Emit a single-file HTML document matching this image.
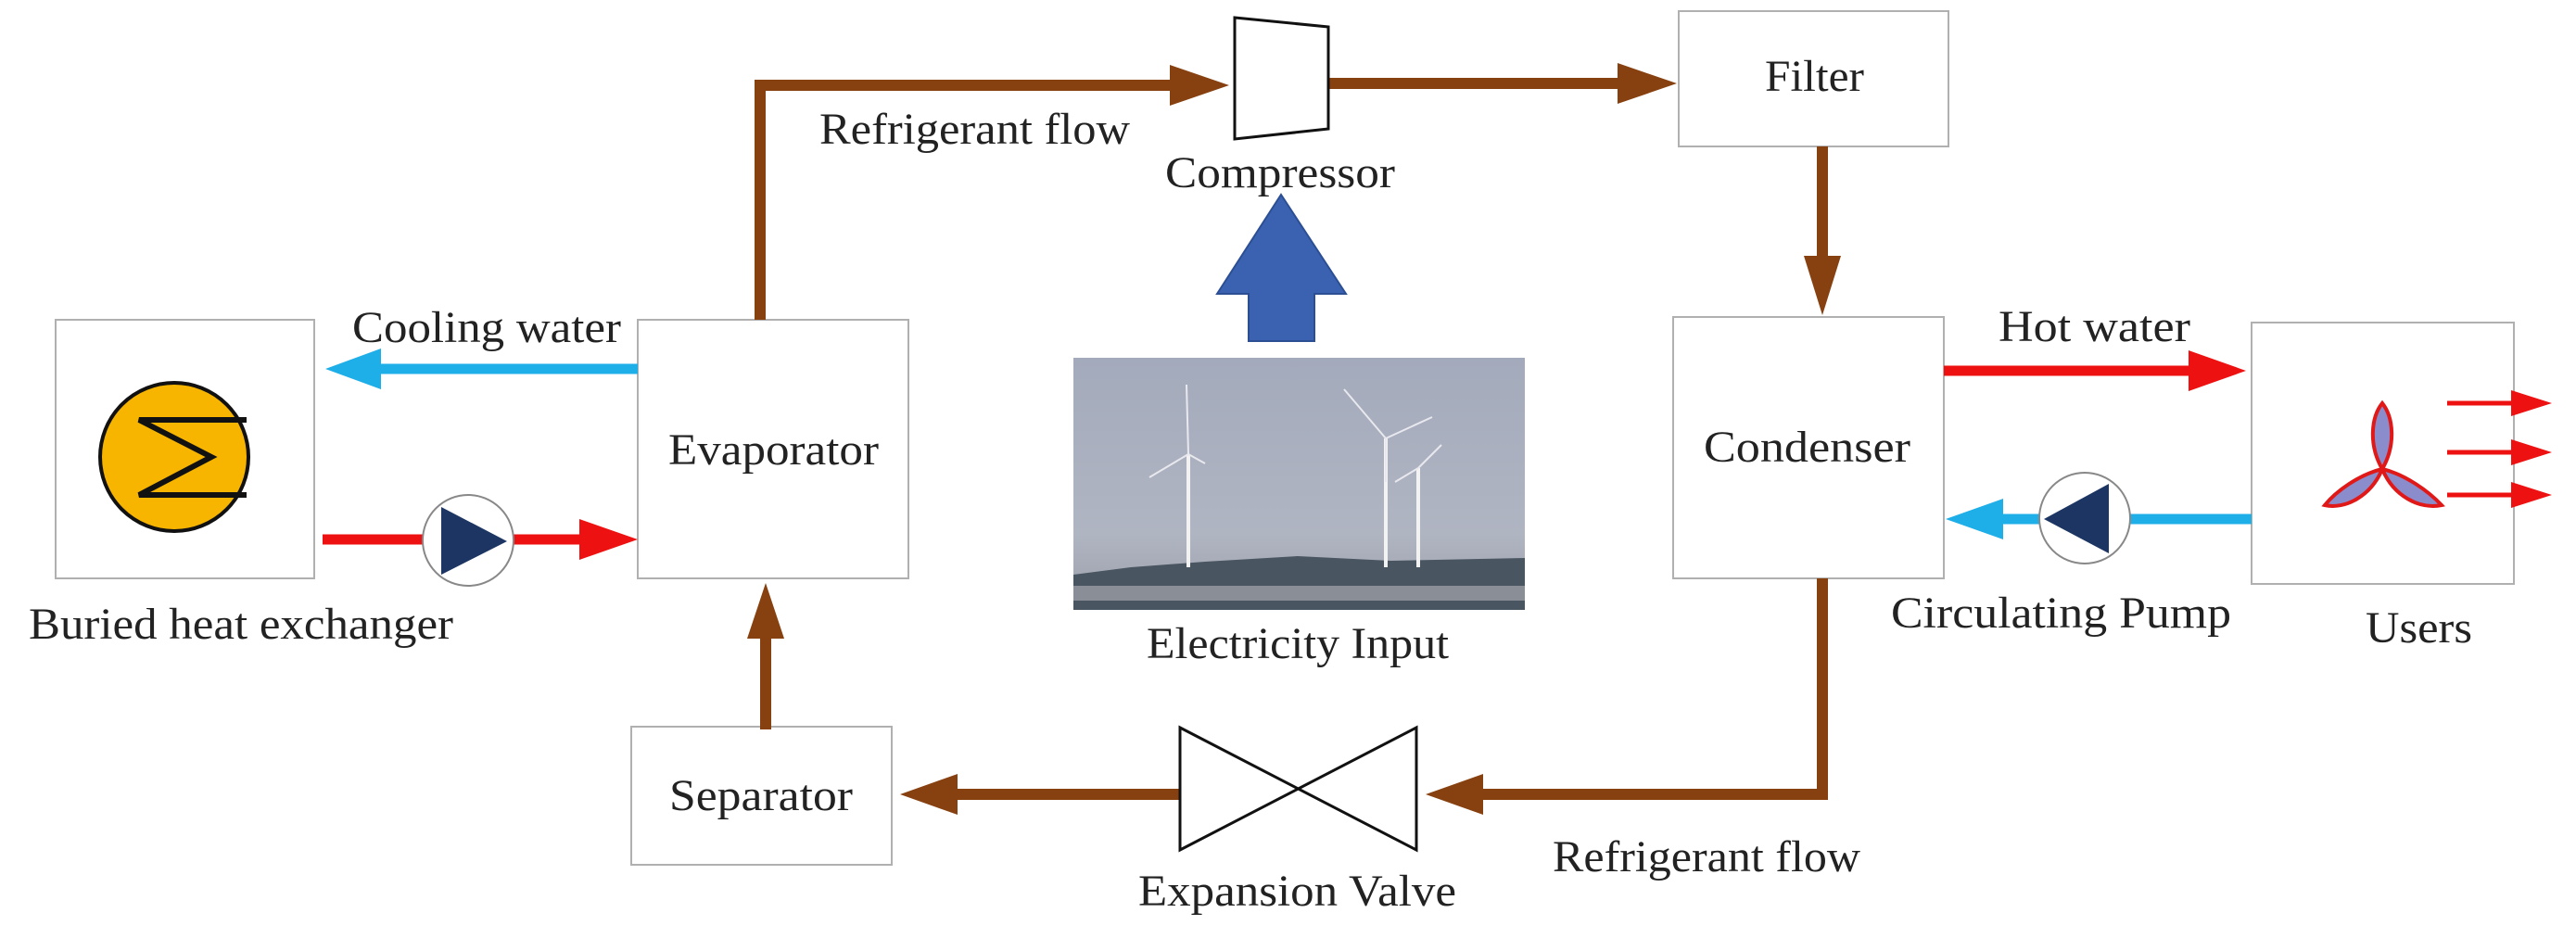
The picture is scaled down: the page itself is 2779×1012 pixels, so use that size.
<!DOCTYPE html>
<html><head><meta charset="utf-8"><style>
html,body{margin:0;padding:0;background:#fff;}
svg{display:block;}
text{font-family:"Liberation Serif",serif;font-size:48px;fill:#222;}
</style></head><body>
<svg width="2779" height="1012" viewBox="0 0 2779 1012" xmlns="http://www.w3.org/2000/svg">
<defs>
<linearGradient id="sky" x1="0" y1="0" x2="0" y2="1">
<stop offset="0" stop-color="#a3aabb"/><stop offset="0.7" stop-color="#b0b5c2"/><stop offset="1" stop-color="#9a9ea8"/>
</linearGradient>
</defs>
<g fill="none" stroke="#b0b0b0" stroke-width="2">
<rect x="60" y="345" width="279" height="279"/>
<rect x="688" y="345" width="292" height="279"/>
<rect x="681" y="784" width="281" height="149"/>
<rect x="1811" y="12" width="291" height="146"/>
<rect x="1805" y="342" width="292" height="282"/>
<rect x="2429" y="348" width="283" height="282"/>
</g>
<!-- buried HX -->
<circle cx="188" cy="493" r="80" fill="#f7b500" stroke="#111" stroke-width="4"/>
<polyline points="266,453 150,453 228,493 150,534 266,534" fill="none" stroke="#111" stroke-width="6"/>
<!-- brown refrigerant lines -->
<g fill="none" stroke="#87400f" stroke-width="12">
<polyline points="820,345 820,92 1270,92"/>
<line x1="1433" y1="90" x2="1750" y2="90"/>
<line x1="1966" y1="158" x2="1966" y2="280"/>
<polyline points="1966,624 1966,857 1595,857"/>
<line x1="1273" y1="857" x2="1028" y2="857"/>
<line x1="826" y1="787" x2="826" y2="684"/>
</g>
<g fill="#87400f">
<polygon points="1326,92 1262,70 1262,114"/>
<polygon points="1809,90 1745,68 1745,112"/>
<polygon points="1966,340 1946,276 1986,276"/>
<polygon points="1538,857 1600,835 1600,879"/>
<polygon points="971,857 1033,835 1033,879"/>
<polygon points="826,629 806,689 846,689"/>
</g>
<!-- compressor -->
<polygon points="1332,19 1433,29 1433,139 1332,150" fill="#fff" stroke="#111" stroke-width="3"/>
<!-- valve -->
<polygon points="1273,785 1273,917 1528,785 1528,917" fill="#fff" stroke="#111" stroke-width="3"/>
<!-- blue arrow -->
<polygon points="1382,210 1452,317 1418,317 1418,368 1347,368 1347,317 1313,317" fill="#3a62b0" stroke="#2c4f94" stroke-width="2"/>
<!-- photo -->
<rect x="1158" y="386" width="487" height="272" fill="url(#sky)"/>
<path d="M1158,620 L1220,612 L1300,606 L1400,600 L1500,605 L1645,602 L1645,658 L1158,658 Z" fill="#4a5562"/>
<rect x="1158" y="632" width="487" height="16" fill="#8a8e96"/>
<g stroke="#f2f2f2" stroke-width="4">
<line x1="1282" y1="490" x2="1282" y2="612"/>
<line x1="1495" y1="473" x2="1495" y2="612"/>
<line x1="1530" y1="505" x2="1530" y2="612"/>
</g>
<g stroke="#e8e8ee" stroke-width="2">
<line x1="1282" y1="490" x2="1280" y2="415"/><line x1="1282" y1="490" x2="1240" y2="515"/><line x1="1282" y1="490" x2="1300" y2="500"/>
<line x1="1495" y1="473" x2="1450" y2="420"/><line x1="1495" y1="473" x2="1545" y2="450"/><line x1="1495" y1="473" x2="1495" y2="520"/>
<line x1="1530" y1="505" x2="1555" y2="480"/><line x1="1530" y1="505" x2="1505" y2="520"/>
</g>
<!-- water lines -->
<g stroke-width="11" fill="none">
<line x1="688" y1="398" x2="405" y2="398" stroke="#1eaee8"/>
<line x1="348" y1="582" x2="630" y2="582" stroke="#ee1111"/>
<line x1="2097" y1="400" x2="2365" y2="400" stroke="#ee1111"/>
<line x1="2429" y1="560" x2="2155" y2="560" stroke="#1eaee8"/>
</g>
<polygon points="351,398 411,376 411,420" fill="#1eaee8"/>
<polygon points="688,582 625,560 625,604" fill="#ee1111"/>
<polygon points="2423,400 2361,378 2361,422" fill="#ee1111"/>
<polygon points="2099,560 2161,538 2161,582" fill="#1eaee8"/>
<!-- pumps -->
<circle cx="505" cy="583" r="49" fill="#fff" stroke="#888" stroke-width="2"/>
<polygon points="476,547 476,620 547,584" fill="#1c3562"/>
<circle cx="2249" cy="559" r="49" fill="#fff" stroke="#888" stroke-width="2"/>
<polygon points="2275,522 2275,597 2205,560" fill="#1c3562"/>
<!-- fan -->
<g fill="#8a8ccc" stroke="#e01818" stroke-width="4">
<path d="M2570,506 C2555,480 2558,450 2570,435 C2582,450 2585,480 2570,506 Z"/>
<path d="M2570,506 C2545,512 2520,530 2508,545 C2530,550 2558,535 2570,506 Z"/>
<path d="M2570,506 C2595,512 2620,530 2634,545 C2610,550 2582,535 2570,506 Z"/>
</g>
<g stroke="#ee1111" stroke-width="5"><line x1="2640" y1="435" x2="2712" y2="435"/><line x1="2640" y1="488" x2="2712" y2="488"/><line x1="2640" y1="534" x2="2712" y2="534"/></g>
<g fill="#ee1111"><polygon points="2753,435 2709,421 2709,449"/><polygon points="2753,488 2709,474 2709,502"/><polygon points="2753,534 2709,520 2709,548"/></g>
<!-- labels -->
<text x="884" y="155" textLength="335" lengthAdjust="spacingAndGlyphs">Refrigerant flow</text>
<text x="1257" y="202" textLength="248" lengthAdjust="spacingAndGlyphs">Compressor</text>
<text x="1904" y="98" textLength="107" lengthAdjust="spacingAndGlyphs">Filter</text>
<text x="380" y="369" textLength="290" lengthAdjust="spacingAndGlyphs">Cooling water</text>
<text x="721" y="501" textLength="227" lengthAdjust="spacingAndGlyphs">Evaporator</text>
<text x="31" y="689" textLength="458" lengthAdjust="spacingAndGlyphs">Buried heat exchanger</text>
<text x="1237" y="710" textLength="326" lengthAdjust="spacingAndGlyphs">Electricity Input</text>
<text x="722" y="874" textLength="198" lengthAdjust="spacingAndGlyphs">Separator</text>
<text x="1228" y="977" textLength="343" lengthAdjust="spacingAndGlyphs">Expansion Valve</text>
<text x="1675" y="940" textLength="332" lengthAdjust="spacingAndGlyphs">Refrigerant flow</text>
<text x="1838" y="498" textLength="223" lengthAdjust="spacingAndGlyphs">Condenser</text>
<text x="2156" y="368" textLength="207" lengthAdjust="spacingAndGlyphs">Hot water</text>
<text x="2040" y="677" textLength="367" lengthAdjust="spacingAndGlyphs">Circulating Pump</text>
<text x="2552" y="693" textLength="115" lengthAdjust="spacingAndGlyphs">Users</text>
</svg>
</body></html>
